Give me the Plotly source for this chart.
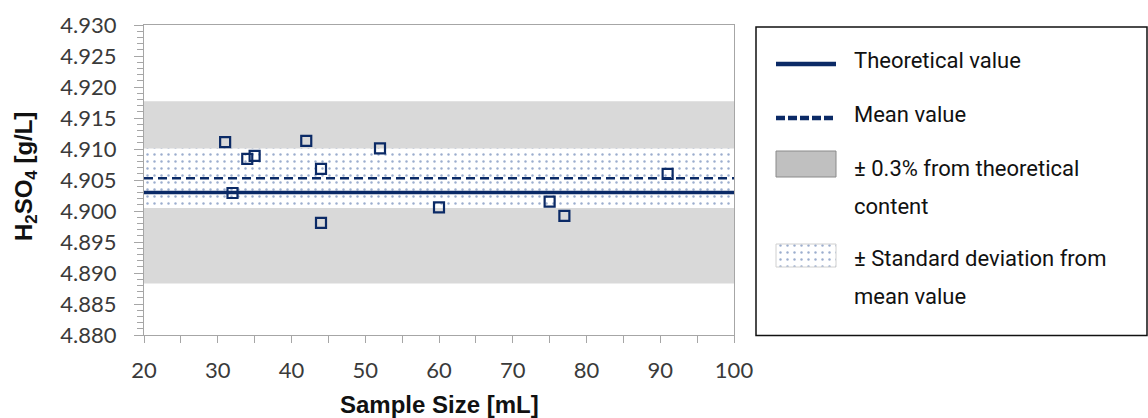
import plotly.graph_objects as go

# ---------------- data ----------------
sample_size = [31, 32, 34, 35, 42, 44, 44, 52, 60, 75, 77, 91]
h2so4 = [4.9111, 4.9029, 4.9084, 4.9089, 4.9113, 4.9068, 4.8981,
         4.9101, 4.9006, 4.9015, 4.8992, 4.9060]
theoretical_value = 4.903
mean_value = 4.9053
std_dev = 0.0048
tolerance_pct = 0.3
x_range = [20, 100]
y_range = [4.880, 4.930]
legend_lines = [["Theoretical value"], ["Mean value"],
                ["± 0.3% from theoretical", "content"],
                ["± Standard deviation from", "mean value"]]

# ---------------- layout helpers ----------------
W, H = 1148, 418
ML, MR, MT, MB = 144, 0, 25, 83
PLOT_R = 734
PW = W - ML - MR
PH = H - MT - MB


def px_x(p):
    return (p - ML) / PW


def px_y(p):
    return (H - MB - p) / PH


NAVY = "#0b2a66"
AXIS = "#a6a6a6"
DOTS = "#3a5b9c"
TICKFONT = dict(family="Lato", size=22, color="#3a3a3a")
LEGFONT = dict(family="Roboto", size=22, color="#111111")

tol = theoretical_value * tolerance_pct / 100.0
band_lo, band_hi = theoretical_value - tol, theoretical_value + tol
sd_lo, sd_hi = mean_value - std_dev, mean_value + std_dev
x0, x1 = x_range

fig = go.Figure()

# +/- 0.3% band
fig.add_trace(go.Scatter(
    x=[x0, x1, x1, x0, x0], y=[band_lo, band_lo, band_hi, band_hi, band_lo],
    mode="lines", fill="toself", fillcolor="#d9d9d9",
    line=dict(width=0), hoverinfo="skip", showlegend=False))

# +/- SD band (dotted)
fig.add_trace(go.Scatter(
    x=[x0, x1, x1, x0, x0], y=[sd_lo, sd_lo, sd_hi, sd_hi, sd_lo],
    mode="lines", fill="toself",
    fillpattern=dict(shape=".", fgcolor=DOTS, bgcolor="white",
                     size=7, solidity=0.1),
    line=dict(width=0), hoverinfo="skip", showlegend=False))

# theoretical line
fig.add_trace(go.Scatter(
    x=[x0, x1], y=[theoretical_value, theoretical_value], mode="lines",
    line=dict(color=NAVY, width=3.5), hoverinfo="skip", showlegend=False))

# mean line
fig.add_trace(go.Scatter(
    x=[x0, x1], y=[mean_value, mean_value], mode="lines",
    line=dict(color=NAVY, width=2.5, dash="9px,5px"),
    hoverinfo="skip", showlegend=False))

# samples
fig.add_trace(go.Scatter(
    x=sample_size, y=h2so4, mode="markers",
    marker=dict(symbol="square-open", size=10, color=NAVY,
                line=dict(color=NAVY, width=2.2)),
    showlegend=False))

# ---------------- manual legend ----------------
LX0, LX1 = 756, 1147
sw0, sw1 = 776, 836
shapes = [
    dict(type="rect", xref="paper", yref="paper",
         x0=px_x(LX0), x1=px_x(LX1), y0=px_y(335.5), y1=px_y(27),
         line=dict(color="#111111", width=1.5), fillcolor="rgba(0,0,0,0)"),
    dict(type="line", xref="paper", yref="paper",
         x0=px_x(sw0), x1=px_x(sw1), y0=px_y(64), y1=px_y(64),
         line=dict(color=NAVY, width=4.5)),
    dict(type="line", xref="paper", yref="paper",
         x0=px_x(sw0), x1=px_x(sw1), y0=px_y(118), y1=px_y(118),
         line=dict(color=NAVY, width=4.5, dash="9px,3px")),
    dict(type="rect", xref="paper", yref="paper",
         x0=px_x(sw0), x1=px_x(sw1), y0=px_y(177), y1=px_y(151),
         line=dict(color="#8a8a8a", width=1), fillcolor="#c0c0c0"),
]

# dotted swatch via pattern-filled trace on a pixel-mapped helper axis
fig.add_trace(go.Scatter(
    x=[sw0, sw1, sw1, sw0, sw0], y=[244, 244, 267, 267, 244],
    xaxis="x2", yaxis="y2", mode="lines", fill="toself",
    fillpattern=dict(shape=".", fgcolor=DOTS, bgcolor="white",
                     size=7, solidity=0.1),
    line=dict(color="#d0d0d0", width=1), hoverinfo="skip", showlegend=False))

text_x = px_x(852)
line_y = [[61], [115], [168, 206], [258, 296]]
annotations = []
for lines, ys in zip(legend_lines, line_y):
    for t, yy in zip(lines, ys):
        annotations.append(dict(
            text=t, xref="paper", yref="paper", x=text_x, y=px_y(yy),
            xanchor="left", yanchor="middle", showarrow=False, font=LEGFONT))

# axis titles
annotations.append(dict(
    text="<b>Sample Size [mL]</b>", xref="paper", yref="paper",
    x=px_x((ML + PLOT_R) / 2), y=px_y(404), xanchor="center", yanchor="middle",
    showarrow=False, font=dict(family="Liberation Sans", size=24, color="#111111")))
annotations.append(dict(
    text="<b>H<sub>2</sub>SO<sub>4</sub> [g/L]</b>", xref="paper", yref="paper",
    x=px_x(25), y=px_y(177), xanchor="center", yanchor="middle", textangle=-90,
    showarrow=False, font=dict(family="Liberation Sans", size=24, color="#111111")))

fig.update_layout(
    width=W, height=H, autosize=False,
    margin=dict(l=ML, r=MR, t=MT, b=MB, pad=0, autoexpand=False),
    paper_bgcolor="white", plot_bgcolor="white",
    shapes=shapes, annotations=annotations,
    xaxis=dict(
        domain=[0, px_x(PLOT_R)], range=x_range, tick0=20, dtick=10,
        ticks="outside", ticklen=7, tickwidth=1, tickcolor=AXIS,
        showline=True, linecolor=AXIS, linewidth=1, mirror=True,
        showgrid=False, zeroline=False, tickfont=TICKFONT,
        ticklabelstandoff=9, automargin=False,
        minor=dict(dtick=5, ticks="outside", ticklen=7, tickcolor=AXIS,
                   tickwidth=1, showgrid=False)),
    yaxis=dict(
        range=y_range, tick0=4.88, dtick=0.005, tickformat=".3f",
        ticks="outside", ticklen=9, tickwidth=1, tickcolor=AXIS,
        showline=True, linecolor=AXIS, linewidth=1, mirror=True,
        showgrid=False, zeroline=False, tickfont=TICKFONT,
        ticklabelstandoff=13, automargin=False,
        minor=dict(dtick=0.001, ticks="outside", ticklen=6, tickcolor=AXIS,
                   tickwidth=1, showgrid=False)),
    xaxis2=dict(domain=[px_x(LX0), px_x(LX1)], range=[LX0, LX1],
                visible=False, anchor="y2", fixedrange=True, automargin=False),
    yaxis2=dict(domain=[0, 1], range=[H - MB, MT], visible=False,
                anchor="x2", fixedrange=True, automargin=False),
)

fig.write_html(
    "out.html",
    config={"displayModeBar": False, "responsive": False},
    post_script="document.body.style.margin='0px';"
                "document.body.style.overflow='hidden';")
